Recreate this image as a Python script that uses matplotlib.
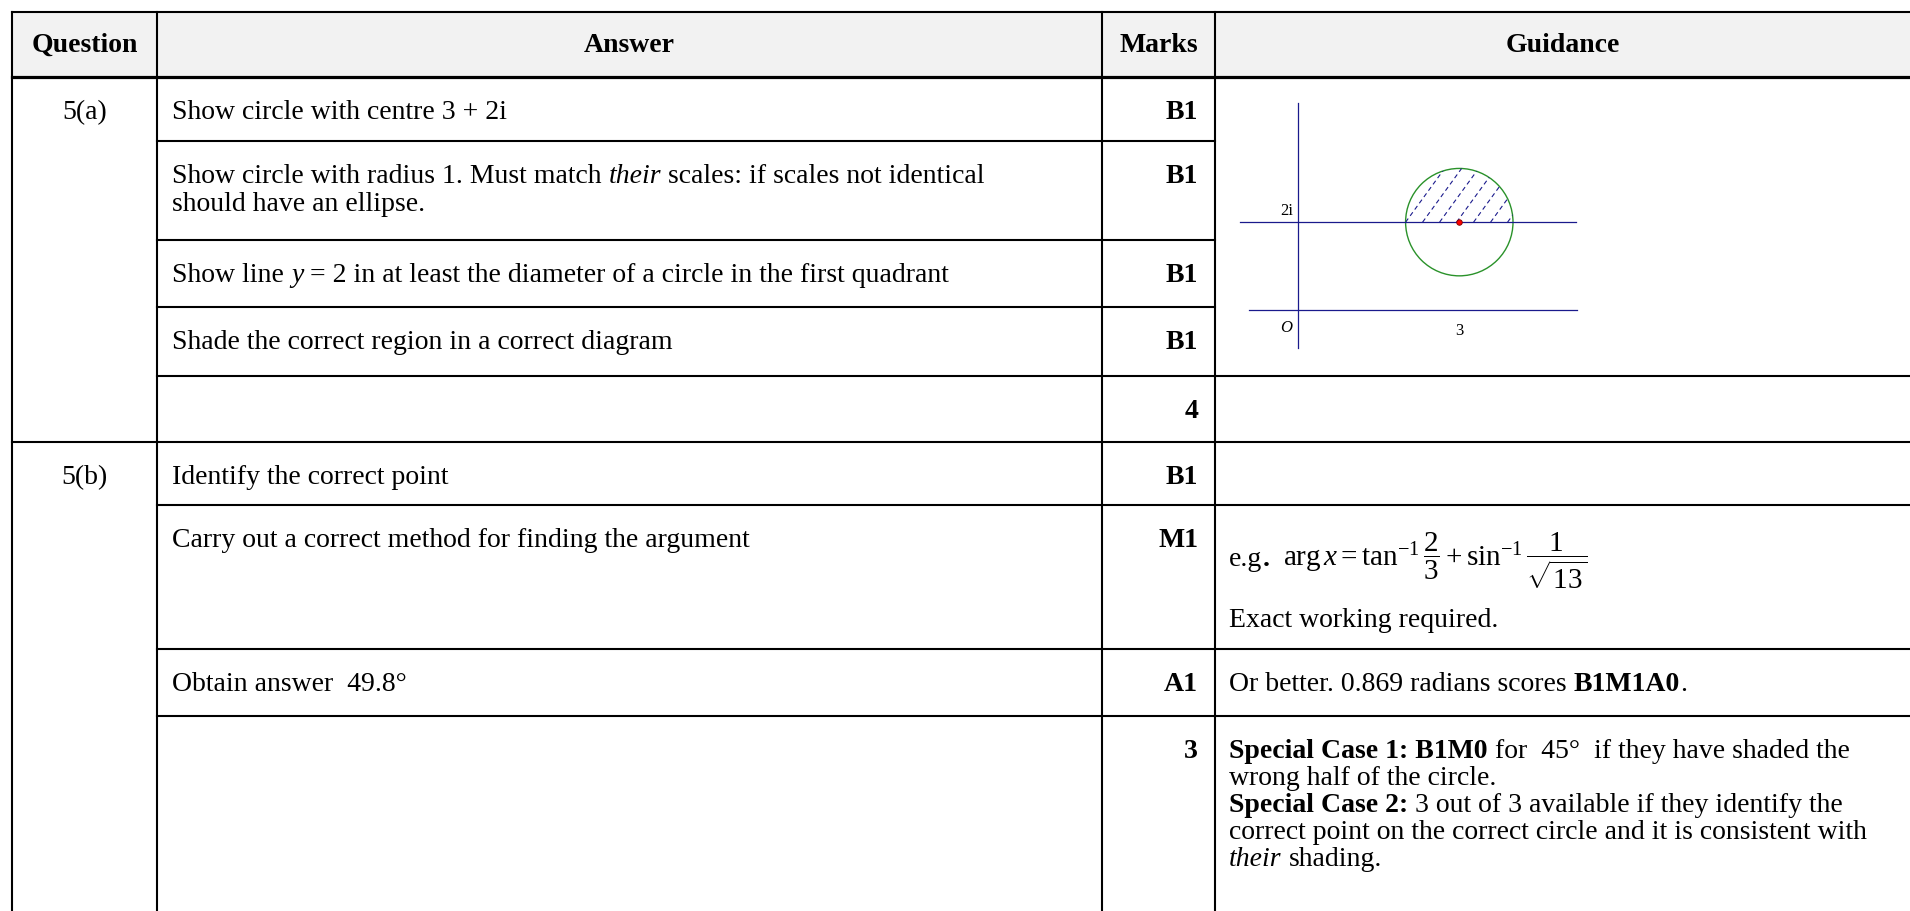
import re
import matplotlib
matplotlib.use("Agg")
import matplotlib.pyplot as plt
import numpy as np
from matplotlib.patches import Rectangle, Ellipse, Polygon

plt.rcParams['font.family'] = ['Liberation Serif', 'DejaVu Serif']
plt.rcParams['mathtext.fontset'] = 'custom'
plt.rcParams['mathtext.rm'] = 'Liberation Serif'
plt.rcParams['mathtext.it'] = 'Liberation Serif:italic'
plt.rcParams['mathtext.bf'] = 'Liberation Serif:bold'

# table content (*italic*, **bold**)
headers = ["Question", "Answer", "Marks", "Guidance"]
questions = ["5(a)", "", "", "", "", "5(b)", "", "", ""]
answers = [
    "Show circle with centre 3 + 2i",
    "Show circle with radius 1. Must match *their* scales: if scales not identical\nshould have an ellipse.",
    "Show line *y* = 2 in at least the diameter of a circle in the first quadrant",
    "Shade the correct region in a correct diagram",
    "",
    "Identify the correct point",
    "Carry out a correct method for finding the argument",
    "Obtain answer  49.8°",
    "",
]
marks = ["B1", "B1", "B1", "B1", "4", "B1", "M1", "A1", "3"]
guidance = [
    "", "", "", "", "", "",
    "",
    "Or better. 0.869 radians scores **B1M1A0**.",
    "**Special Case 1: B1M0** for  45°  if they have shaded the\n"
    "wrong half of the circle.\n"
    "**Special Case 2:** 3 out of 3 available if they identify the\n"
    "correct point on the correct circle and it is consistent with\n"
    "*their* shading.",
]
formula_lead = "e.g**.** "
formula = r"$\arg x = \tan^{-1}\dfrac{2}{3} + \sin^{-1}\dfrac{1}{\sqrt{13}}$"
formula_note = "Exact working required."

# diagram values
centre = (3, 2)
radius = 1
line_y = 2
diagram_labels = ["2i", "O", "3"]

# layout (pixels)
W, H = 1910, 911
col_x = [12, 157, 1102, 1215, W]
row_y = [12, 77, 141, 240, 307, 376, 442, 505, 649, 716, H]
line_start = [157, 157, 157, 157, 12, 157, 157, 157]
line_end = [1215, 1215, 1215, W, W, W, W, W]
fs = 20
step = 27

fig = plt.figure(figsize=(W / 100, H / 100), dpi=100)
ax = fig.add_axes([0, 0, 1, 1])
ax.set_xlim(0, W)
ax.set_ylim(H, 0)
ax.axis('off')
renderer = fig.canvas.get_renderer()


def text_width(t):
    return t.get_window_extent(renderer).width


def space_width(weight, style):
    a = ax.text(0, 0, "n n", fontsize=fs, fontweight=weight, fontstyle=style)
    b = ax.text(0, 0, "nn", fontsize=fs, fontweight=weight, fontstyle=style)
    w = text_width(a) - text_width(b)
    a.remove()
    b.remove()
    return w


def runs_of(line):
    for p in re.split(r'(\*\*.+?\*\*|\*.+?\*)', line):
        if not p:
            continue
        if p.startswith('**'):
            yield p[2:-2], 'bold', 'normal'
        elif p.startswith('*'):
            yield p[1:-1], 'normal', 'italic'
        else:
            yield p, 'normal', 'normal'


def draw_rich(x, y, line):
    for s, weight, style in runs_of(line):
        sp = space_width(weight, style)
        lead = len(s) - len(s.lstrip(' '))
        trail = len(s) - len(s.rstrip(' '))
        x += lead * sp
        core = s.strip(' ')
        if core:
            t = ax.text(x, y, core, fontsize=fs, fontweight=weight,
                        fontstyle=style, va='baseline', ha='left')
            x += text_width(t)
        x += trail * sp
    return x


# header band and grid
ax.add_patch(Rectangle((col_x[0], row_y[0]), W - col_x[0], row_y[1] - row_y[0],
                       color='#f2f2f2', zorder=0))
ax.plot([col_x[0], W], [row_y[0], row_y[0]], color='black', lw=1.5)
ax.plot([col_x[0], W], [row_y[1], row_y[1]], color='black', lw=2.3)
for x in col_x[:4]:
    ax.plot([x, x], [row_y[0], H], color='black', lw=1.5)
for i, y in enumerate(row_y[2:-1]):
    ax.plot([line_start[i], line_end[i]], [y, y], color='black', lw=1.5)

# header text
for i, h in enumerate(headers):
    ax.text((col_x[i] + col_x[i + 1]) / 2, (row_y[0] + row_y[1]) / 2 + 1, h,
            fontsize=fs, fontweight='bold', ha='center', va='center')

# body
for r in range(len(answers)):
    base = row_y[r + 1] + 42
    if questions[r]:
        ax.text((col_x[0] + col_x[1]) / 2, base, questions[r], fontsize=fs,
                ha='center', va='baseline')
    for k, line in enumerate(answers[r].split('\n')):
        if line:
            draw_rich(col_x[1] + 15, base + k * step + k, line)
    ax.text(col_x[3] - 17, base, marks[r], fontsize=fs, fontweight='bold',
            ha='right', va='baseline')
    for k, line in enumerate(guidance[r].split('\n')):
        if line:
            draw_rich(col_x[3] + 14, base + k * step, line)

# formula row
fy = row_y[7] + 61
fx = draw_rich(col_x[3] + 14, fy, formula_lead)
ax.text(fx, fy, formula, fontsize=fs + 1, ha='left', va='baseline')
draw_rich(col_x[3] + 14, row_y[7] + 122, formula_note)

# diagram
dl, dr, dt, db = 1230, 1600, 95, 355
dax = fig.add_axes([dl / W, (H - db) / H, (dr - dl) / W, (db - dt) / H])
dax.set_xlim(-1.27, 5.62)
dax.set_ylim(-1.02, 4.89)
dax.axis('off')
sx = (dr - dl) / (5.62 + 1.27)
sy = (db - dt) / (4.89 + 1.02)
navy = '#1a1a8c'

dax.plot([0, 0], [-0.86, 4.70], color=navy, lw=0.9)
dax.plot([-0.91, 5.2], [0, 0], color=navy, lw=0.9)
dax.plot([-1.08, 5.18], [line_y, line_y], color=navy, lw=0.9)
dax.add_patch(Ellipse(centre, 2 * radius, 2 * radius * sx / sy, fill=False,
                      ec='#2a922a', lw=1.0))

t = np.linspace(0, np.pi, 120)
half = Polygon(np.column_stack([centre[0] + radius * np.cos(t),
                                centre[1] + radius * np.sin(t) * sx / sy]),
               closed=True, transform=dax.transData)
ang = np.radians(54)
for k in range(-8, 10):
    x0 = centre[0] - radius + k * 17 / sx
    ln, = dax.plot([x0, x0 + 160 * np.cos(ang) / sx],
                   [line_y, line_y + 160 * np.sin(ang) / sy],
                   color=navy, lw=0.8, linestyle=(0, (4, 3)))
    ln.set_clip_path(half)

dax.plot(*centre, 'o', ms=4, mfc='red', mec='#7a0000', mew=0.6)

dax.annotate(diagram_labels[0], (0, line_y), xytext=(-4, 2), textcoords='offset points',
             ha='right', va='bottom', fontsize=12)
dax.annotate(diagram_labels[1], (0, 0), xytext=(-4, -7), textcoords='offset points',
             ha='right', va='top', fontsize=12, fontstyle='italic')
dax.annotate(diagram_labels[2], (centre[0], 0), xytext=(0, -9), textcoords='offset points',
             ha='center', va='top', fontsize=12)

fig.savefig('out.png', dpi=100)
